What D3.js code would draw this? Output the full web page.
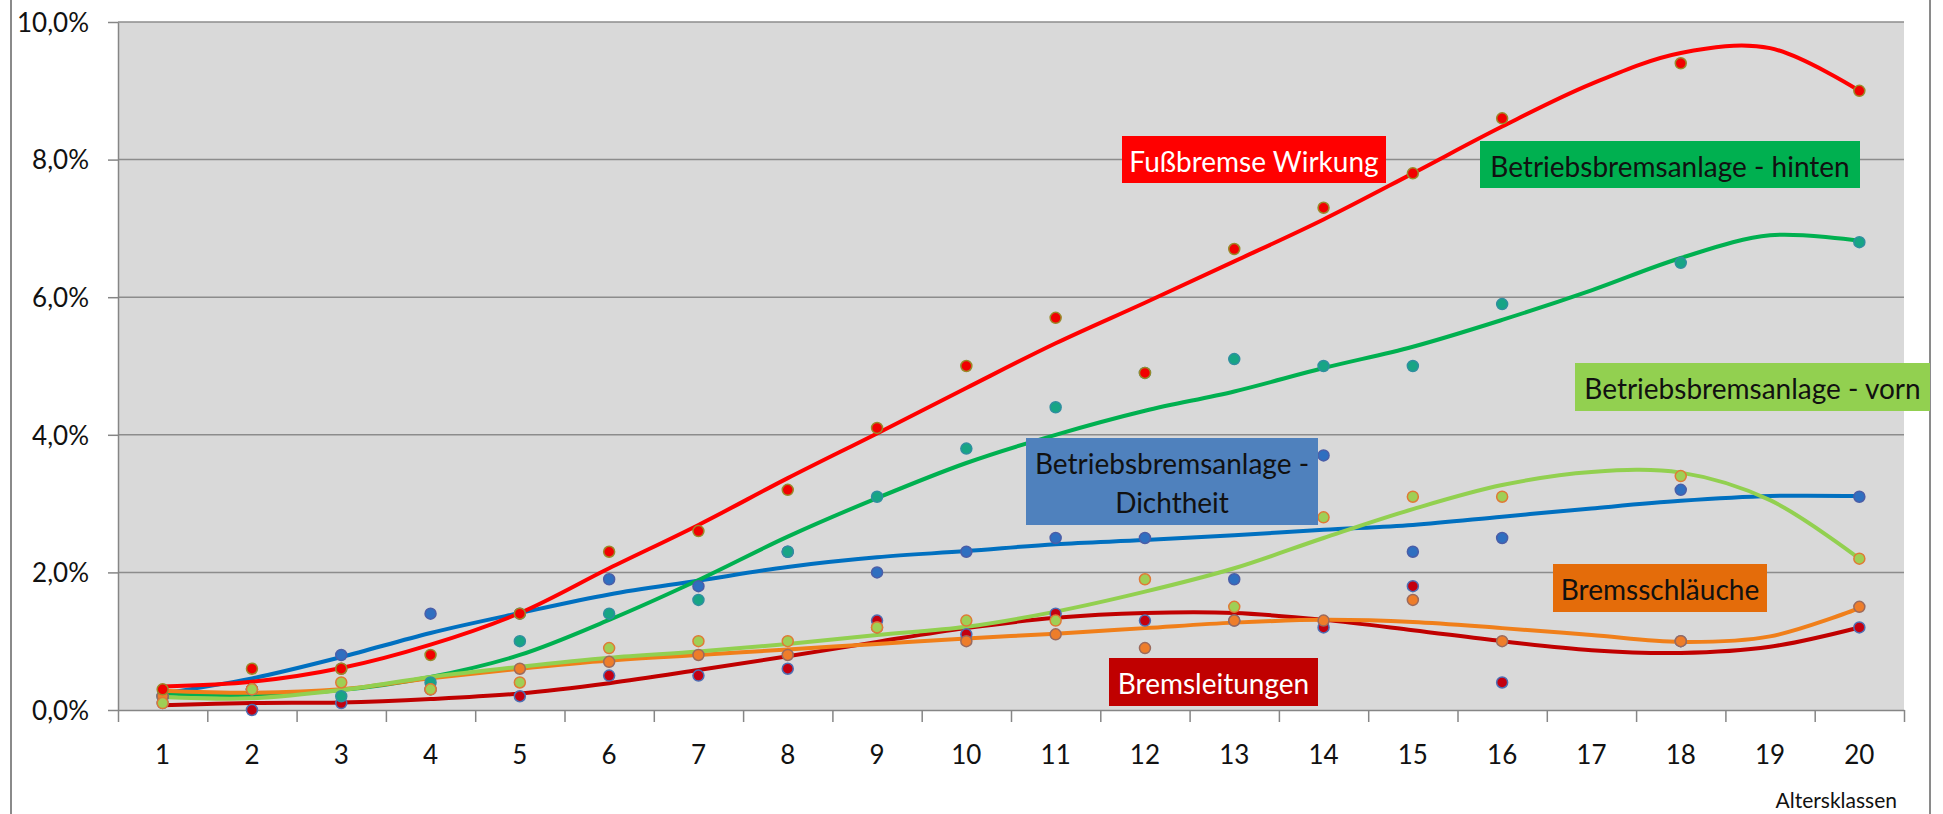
<!DOCTYPE html>
<html>
<head>
<meta charset="utf-8">
<style>
    body { margin: 0; background: #fff; }
    svg text { font-family: Lato, "Open Sans", sans-serif; fill: #111; }
</style>
<script src="https://d3js.org/d3.v7.min.js"></script>
</head>
<body>
<svg width="1943" height="814"></svg>
<script>
// categories (Altersklassen) and y ticks
var categories = ["1","2","3","4","5","6","7","8","9","10","11","12","13","14","15","16","17","18","19","20"];
var yTicks = [0, 2, 4, 6, 8, 10];

// measured points in percent, null = no value for that class
var fussbremse = [0.3, 0.6, 0.6, 0.8, 1.4, 2.3, 2.6, 3.2, 4.1, 5.0, 5.7, 4.9, 6.7, 7.3, 7.8, 8.6, null, 9.4, null, 9.0];
var hinten     = [0.2, 0.3, 0.2, 0.4, 1.0, 1.4, 1.6, 2.3, 3.1, 3.8, 4.4, 4.9, 5.1, 5.0, 5.0, 5.9, null, 6.5, null, 6.8];
var vorn       = [0.1, 0.3, 0.4, 0.3, 0.4, 0.9, 1.0, 1.0, 1.2, 1.3, 1.3, 1.9, 1.5, 2.8, 3.1, 3.1, null, 3.4, null, 2.2];
var dichtheit  = [0.2, 0.3, 0.8, 1.4, 1.4, 1.9, 1.8, 2.3, 2.0, 2.3, 2.5, 2.5, 1.9, 3.7, 2.3, 2.5, null, 3.2, null, 3.1];
var schlaeuche = [0.2, 0.3, 0.6, 0.3, 0.6, 0.7, 0.8, 0.8, 1.2, 1.0, 1.1, 0.9, 1.3, 1.3, 1.6, 1.0, null, 1.0, null, 1.5];
var leitungen  = [0.1, 0.0, 0.1, 0.3, 0.2, 0.5, 0.5, 0.6, 1.3, 1.1, 1.4, 1.3, 1.3, 1.2, 1.8, 0.4, null, 1.0, null, 1.2];

// trend lines, one value per class
var fussbremseTrend = [0.34, 0.41, 0.61, 0.95, 1.41, 2.06, 2.69, 3.37, 4.02, 4.68, 5.33, 5.92, 6.52, 7.13, 7.8, 8.48, 9.1, 9.55, 9.62, 9.0];
var hintenTrend     = [0.24, 0.22, 0.29, 0.48, 0.8, 1.31, 1.89, 2.52, 3.08, 3.59, 4.0, 4.35, 4.63, 4.97, 5.28, 5.67, 6.1, 6.57, 6.9, 6.82];
var vornTrend       = [0.19, 0.17, 0.29, 0.48, 0.63, 0.76, 0.85, 0.96, 1.09, 1.21, 1.43, 1.72, 2.06, 2.5, 2.92, 3.27, 3.46, 3.45, 3.05, 2.2];
var dichtheitTrend  = [0.24, 0.46, 0.77, 1.12, 1.41, 1.68, 1.88, 2.08, 2.22, 2.31, 2.41, 2.47, 2.54, 2.62, 2.69, 2.81, 2.93, 3.04, 3.11, 3.11];
var schlaeucheTrend = [0.28, 0.25, 0.3, 0.46, 0.6, 0.72, 0.8, 0.88, 0.96, 1.04, 1.11, 1.19, 1.27, 1.31, 1.28, 1.19, 1.09, 0.99, 1.07, 1.48];
var leitungenTrend  = [0.07, 0.1, 0.11, 0.16, 0.24, 0.39, 0.58, 0.78, 0.99, 1.19, 1.34, 1.41, 1.41, 1.31, 1.16, 1.0, 0.87, 0.83, 0.92, 1.2];

// drawing order: later series lie on top
var series = [
    {points: dichtheit,  trend: dichtheitTrend,  line: "#0070c0", fill: "#2f6fc0", stroke: "#4a5ea8"},
    {points: leitungen,  trend: leitungenTrend,  line: "#c00000", fill: "#c40010", stroke: "#4d6fb5"},
    {points: hinten,     trend: hintenTrend,     line: "#00b050", fill: "#17a585", stroke: "#2f8f9f"},
    {points: schlaeuche, trend: schlaeucheTrend, line: "#f07f1a", fill: "#ee7d2a", stroke: "#9c6a5c"},
    {points: vorn,       trend: vornTrend,       line: "#92d050", fill: "#9fcf55", stroke: "#e07a35"},
    {points: fussbremse, trend: fussbremseTrend, line: "#ff0000", fill: "#f20000", stroke: "#9a8a2a"}
];

var labels = [
    {text: ["Fußbremse Wirkung"], x: 1122, y: 136, w: 264, h: 47, bg: "#ff0000", color: "#fff"},
    {text: ["Betriebsbremsanlage - hinten"], x: 1480, y: 141, w: 380, h: 47, bg: "#00b050", color: "#111"},
    {text: ["Betriebsbremsanlage - vorn"], x: 1575, y: 363, w: 355, h: 48, bg: "#92d050", color: "#111"},
    {text: ["Betriebsbremsanlage -", "Dichtheit"], x: 1026, y: 438, w: 292, h: 87, bg: "#4f81bd", color: "#111"},
    {text: ["Bremsschläuche"], x: 1553, y: 564, w: 214, h: 48, bg: "#e46c0a", color: "#111"},
    {text: ["Bremsleitungen"], x: 1109, y: 658, w: 209, h: 48, bg: "#c00000", color: "#fff"}
];

var svg = d3.select("svg");
var plotLeft = 118, plotRight = 1904, plotTop = 22, plotBottom = 710;

var x = d3.scaleBand().domain(categories).range([plotLeft, plotRight]);
var xEdge = d3.scaleLinear().domain([0, categories.length]).range([plotLeft, plotRight]);
var y = d3.scaleLinear().domain([0, 10]).range([plotBottom, plotTop]);
var de = d3.formatLocale({decimal: ",", thousands: ".", grouping: [3], currency: ["", " €"]});
var fmt = de.format(".1f");

// outer frame lines
svg.append("line").attr("x1", 11).attr("x2", 11).attr("y1", 0).attr("y2", 814)
    .attr("stroke", "#8a8a8a").attr("stroke-width", 2);
svg.append("line").attr("x1", 1930).attr("x2", 1930).attr("y1", 0).attr("y2", 814)
    .attr("stroke", "#8a8a8a").attr("stroke-width", 2);

// plot area
svg.append("rect").attr("x", plotLeft).attr("y", plotTop)
    .attr("width", plotRight - plotLeft).attr("height", plotBottom - plotTop)
    .attr("fill", "#d9d9d9");

svg.append("g").selectAll("line").data(yTicks.slice(1)).enter().append("line")
    .attr("x1", plotLeft).attr("x2", plotRight)
    .attr("y1", function(d) { return y(d); }).attr("y2", function(d) { return y(d); })
    .attr("stroke", "#8c8c8c").attr("stroke-width", 1.5);

// y axis
var yAxis = svg.append("g").attr("transform", "translate(" + plotLeft + ",0)")
    .call(d3.axisLeft(y).tickValues(yTicks).tickSize(10).tickSizeOuter(0).tickPadding(19)
        .tickFormat(function(d) { return fmt(d) + "%"; }));
yAxis.selectAll("text").attr("font-size", 26).attr("dy", "0.36em").style("fill", "#111");

// x axis: ticks between classes, labels centered
svg.append("g").attr("transform", "translate(0," + plotBottom + ")")
    .call(d3.axisBottom(xEdge).ticks(categories.length).tickSize(12).tickSizeOuter(0).tickFormat(""));
var xAxis = svg.append("g").attr("transform", "translate(0," + plotBottom + ")")
    .call(d3.axisBottom(x).tickSize(0).tickSizeOuter(0));
xAxis.select(".domain").remove();
xAxis.selectAll("text").attr("font-size", 26).attr("y", 54).attr("dy", null).style("fill", "#111");

svg.selectAll(".domain, .tick line").attr("stroke", "#868686").attr("stroke-width", 1.5);

svg.append("text").attr("x", 1897).attr("y", 808).attr("text-anchor", "end")
    .attr("font-size", 21).text("Altersklassen");

// trend lines
var cx = function(d, i) { return x(categories[i]) + x.bandwidth() / 2; };
var trend = d3.line().x(cx).y(function(d) { return y(d); }).curve(d3.curveCatmullRom.alpha(0.5));

svg.append("g").selectAll("path").data(series).enter().append("path")
    .attr("d", function(s) { return trend(s.trend); })
    .attr("fill", "none")
    .attr("stroke", function(s) { return s.line; })
    .attr("stroke-width", 4)
    .attr("stroke-linecap", "round");

// points
series.forEach(function(s) {
    var pts = s.points.map(function(v, i) { return {v: v, i: i}; }).filter(function(p) { return p.v !== null; });
    svg.append("g").selectAll("circle").data(pts).enter().append("circle")
        .attr("cx", function(p) { return cx(p, p.i); })
        .attr("cy", function(p) { return y(p.v); })
        .attr("r", 5.5)
        .attr("fill", s.fill)
        .attr("stroke", s.stroke)
        .attr("stroke-width", 1.5);
});

// label boxes
var lab = svg.append("g").selectAll("g").data(labels).enter().append("g");
lab.append("rect")
    .attr("x", function(d) { return d.x; }).attr("y", function(d) { return d.y; })
    .attr("width", function(d) { return d.w; }).attr("height", function(d) { return d.h; })
    .attr("fill", function(d) { return d.bg; });
lab.each(function(d) {
    var g = d3.select(this);
    d.text.forEach(function(t, k) {
        g.append("text")
            .attr("x", d.x + d.w / 2)
            .attr("y", d.y + 36 + k * 39)
            .attr("text-anchor", "middle")
            .attr("font-size", 28)
            .style("fill", d.color)
            .text(t);
    });
});
</script>
</body>
</html>
